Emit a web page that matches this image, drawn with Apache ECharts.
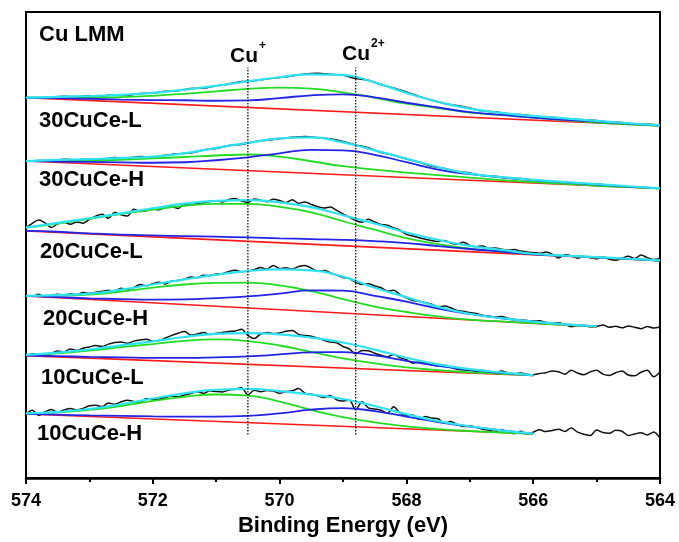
<!DOCTYPE html>
<html>
<head>
<meta charset="utf-8">
<title>Cu LMM</title>
<script src="https://cdn.jsdelivr.net/npm/echarts/dist/echarts.min.js"></script>
<style>
  html, body { margin: 0; padding: 0; background: #ffffff; }
  #chart { width: 679px; height: 542px; }
</style>
</head>
<body>
<div id="chart"></div>
<script>
// Binding energy grids (eV)
const energyFit = [574, 573.5, 573, 572.5, 572, 571.5, 571, 570.5, 570, 569.5, 569,
                   568.5, 568, 567.5, 567, 566.5, 566, 565.5, 565, 564.5, 564];
const energyCoarse = [574.0, 573.8, 573.6, 573.4, 573.2, 573.0, 572.8, 572.6, 572.4, 572.2,
                      572.0, 571.8, 571.6, 571.4, 571.2, 571.0, 570.8, 570.6, 570.4, 570.2,
                      570.0, 569.8, 569.6, 569.4, 569.2, 569.0, 568.8, 568.6, 568.4, 568.2,
                      568.0, 567.8, 567.6, 567.4, 567.2, 567.0, 566.8, 566.6, 566.4, 566.2,
                      566.0, 565.8, 565.6, 565.4, 565.2, 565.0, 564.8, 564.6, 564.4, 564.2,
                      564.0];
const energyFine = [574.0, 573.9, 573.8, 573.7, 573.6, 573.5, 573.4, 573.3, 573.2, 573.1,
                    573.0, 572.9, 572.8, 572.7, 572.6, 572.5, 572.4, 572.3, 572.2, 572.1,
                    572.0, 571.9, 571.8, 571.7, 571.6, 571.5, 571.4, 571.3, 571.2, 571.1,
                    571.0, 570.9, 570.8, 570.7, 570.6, 570.5, 570.4, 570.3, 570.2, 570.1,
                    570.0, 569.9, 569.8, 569.7, 569.6, 569.5, 569.4, 569.3, 569.2, 569.1,
                    569.0, 568.9, 568.8, 568.7, 568.6, 568.5, 568.4, 568.3, 568.2, 568.1,
                    568.0, 567.9, 567.8, 567.7, 567.6, 567.5, 567.4, 567.3, 567.2, 567.1,
                    567.0, 566.9, 566.8, 566.7, 566.6, 566.5, 566.4, 566.3, 566.2, 566.1,
                    566.0, 565.9, 565.8, 565.7, 565.6, 565.5, 565.4, 565.3, 565.2, 565.1,
                    565.0, 564.9, 564.8, 564.7, 564.6, 564.5, 564.4, 564.3, 564.2, 564.1,
                    564.0];

// Sample names (top to bottom) and vertical stacking offsets (a.u.)
const sampleNames = ['30CuCe-L', '30CuCe-H', '20CuCe-L', '20CuCe-H', '10CuCe-L', '10CuCe-H'];
const stackOffset = [383.7, 319.7, 249.3, 183.7, 123.5, 64.7];

// Peak positions of the two copper states (eV) and the span of their guide lines (a.u.)
const cuPlusEnergy = 570.5;
const cu2PlusEnergy = 568.8;
const guideSpan = [44, 414];

// ---- 30CuCe-L ----
const raw30L = [0.3, -0.6, 0.4, 1.3, 0.9, 1.9, 1.6, 2.9, 2.6, 4.2,
                4.5, 6.3, 7.0, 9.1, 9.6, 11.9, 13.8, 16.2, 16.9, 18.8,
                20.2, 21.8, 23.9, 24.5, 23.6, 22.4, 19.2, 17.4, 12.9, 9.8,
                5.6, 1.2, -2.6, -5.9, -8.0, -10.6, -13.5, -14.4, -16.4, -17.0,
                -18.8, -19.6, -20.3, -21.9, -22.3, -23.1, -24.8, -25.1, -26.9, -27.0,
                -27.6];
const bg30L = [0, -28.4];
const cuI30L = [0, -0.1, 0, 0.5, 1.8, 3.8, 6.3, 8.8, 10.0, 9.0, 5.3, -0.2, -6.2, -10.5, -15.2, -17.5, -20.2, -22.7, -25.2, -26.9, -28.4];
const cuII30L = [0, -0.5, -1.2, -2.0, -2.5, -2.7, -3.2, -2.9, -0.5, 2.3, 3.3, 0.3, -5.2, -10.0, -14.7, -17.4, -20.2, -22.5, -24.3, -26.2, -28.2];
const env30L = [0, 0.8, 1.6, 2.8, 4.8, 8.0, 11.8, 16.3, 20.5, 23.5, 22.8, 15.3, 4.8, -4.2, -11.2, -15.5, -18.5, -21.0, -23.5, -25.9, -28.0];

// ---- 30CuCe-H ----
const raw30H = [-0.5, 0.6, 0.3, 1.8, 1.2, 2.4, 1.9, 3.5, 2.9, 4.6,
                4.0, 5.9, 7.4, 8.0, 11.2, 12.6, 15.6, 16.8, 19.5, 21.0,
                22.4, 23.9, 24.8, 23.6, 22.4, 19.8, 16.3, 13.5, 8.6, 5.8,
                2.0, -1.0, -5.3, -7.4, -10.6, -12.0, -14.6, -15.3, -17.4, -17.6,
                -19.5, -20.0, -21.3, -22.0, -23.4, -23.0, -24.9, -25.8, -26.1, -27.4,
                -27.2];
const bg30H = [0, -27.7];
const cuI30H = [0, 0.1, 0.5, 1.3, 2.6, 4.1, 5.6, 6.6, 4.5, -0.2, -5.2, -8.7, -11.7, -14.2, -16.7, -19.2, -21.2, -23.0, -24.9, -26.3, -27.7];
const cuII30H = [0, -0.5, -0.9, -1.3, -1.7, -1.2, 0.8, 3.8, 7.8, 11.3, 10.8, 6.3, -1.2, -8.7, -13.2, -16.5, -19.2, -21.5, -23.7, -25.7, -27.5];
const env30H = [0, 1.1, 2.0, 3.0, 4.5, 7.8, 13.3, 18.3, 22.8, 23.8, 18.8, 10.8, 2.5, -6.0, -12.7, -16.2, -19.0, -21.2, -23.2, -25.4, -27.5];

// ---- 20CuCe-L ----
const raw20L = [3.0, 7.6, 10.9, 8.0, 3.4, 7.2, 8.8, 6.6, 9.0, 7.8,
                11.6, 14.9, 16.8, 12.6, 18.4, 16.2, 14.9, 21.8, 19.6, 20.4,
                22.0, 21.2, 23.8, 24.6, 22.6, 26.9, 25.8, 27.6, 28.4, 29.6,
                30.4, 29.2, 31.6, 32.6, 30.0, 28.8, 32.2, 31.0, 29.4, 31.8,
                30.6, 28.4, 31.4, 27.8, 29.2, 26.6, 24.4, 23.0, 24.0, 20.6,
                17.2, 13.8, 10.6, 8.6, 11.8, 9.0, 6.4, 5.8, 3.0, 0.6,
                -3.6, -5.2, -7.0, -8.4, -9.8, -10.6, -9.6, -12.2, -13.4, -11.4,
                -14.6, -16.0, -15.2, -17.6, -17.2, -18.4, -19.6, -18.8, -20.4, -21.2,
                -21.8, -22.6, -21.4, -23.4, -27.4, -24.2, -25.0, -27.6, -25.8, -27.0,
                -28.2, -26.4, -28.6, -29.6, -27.8, -25.6, -27.8, -24.4, -27.0, -28.8,
                -28.2];
const bg20L = [0, -30.0];
const cuI20L = [3.2, 7.4, 12.2, 17.0, 21.4, 25.2, 27.2, 27.2, 24.2, 18.7, 9.7, 1.2, -7.3, -13.3, -17.8, -20.8, -23.3, -25.1, -26.6, -28.3, -29.9];
const cuII20L = [0, -0.9, -2.5, -3.8, -4.6, -5.3, -5.9, -6.6, -7.5, -8.3, -9.0, -10.3, -12.3, -15.3, -18.3, -20.8, -23.8, -25.3, -26.8, -28.3, -29.9];
const env20L = [3.2, 8.0, 12.7, 17.7, 22.8, 27.4, 30.3, 31.1, 28.7, 23.9, 15.7, 7.4, -1.6, -9.1, -15.1, -19.1, -23.1, -24.9, -26.4, -28.1, -29.8];

// ---- 20CuCe-H ----
const raw20H = [0.8, -0.6, 1.8, -1.2, 0.4, 1.6, 0.6, 2.2, 1.2, 3.4,
                2.6, 3.8, 4.6, 5.8, 4.8, 7.8, 6.6, 8.4, 11.6, 10.2,
                12.4, 13.8, 12.0, 15.0, 15.6, 16.8, 19.0, 18.4, 20.8, 20.6,
                22.0, 22.4, 24.6, 25.8, 24.4, 25.2, 26.4, 28.6, 27.0, 30.8,
                27.6, 28.4, 27.2, 29.6, 30.8, 28.0, 24.8, 25.6, 23.4, 21.0,
                18.6, 17.4, 13.8, 11.6, 12.4, 10.0, 8.2, 5.0, 5.6, 1.4,
                -2.0, -4.6, -5.4, -6.8, -8.4, -11.2, -10.2, -12.0, -14.6, -15.4,
                -16.8, -17.8, -19.6, -20.2, -21.4, -20.8, -22.6, -23.8, -24.2, -24.8,
                -25.4, -25.0, -26.8, -27.6, -27.0, -28.8, -31.0, -30.2, -29.6, -31.2,
                -30.8, -29.4, -31.6, -30.6, -32.2, -30.4, -31.6, -33.0, -30.8, -32.4,
                -31.4];
const bg20H = [0, -31.1];
const cuI20H = [0, 0.4, 1.3, 4.3, 8.3, 11.5, 13.1, 13.5, 10.6, 4.8, -3.2, -10.7, -16.2, -20.7, -24.0, -25.7, -27.5, -29.2, -31.0];
const cuII20H = [0, -1.2, -2.4, -3.2, -3.7, -3.5, -2.2, -0.5, 2.3, 5.5, 5.3, 0, -5.7, -12.7, -18.2, -22.5, -26.0, -28.7, -30.7];
const env20H = [0, 0.9, 2.3, 6.3, 11.5, 16.6, 21.3, 25.1, 26.7, 25.8, 19.4, 8.3, -1.2, -11.0, -18.0, -22.3, -25.9, -28.6, -30.6];

// ---- 10CuCe-L ----
const raw10L = [-1.5, 1.8, 0.2, -0.8, 2.4, 4.6, 3.6, 6.8, 5.2, 7.4,
                8.8, 10.2, 9.2, 11.6, 13.2, 13.8, 12.4, 14.6, 15.8, 16.4,
                14.6, 15.2, 17.8, 20.4, 22.6, 24.4, 20.6, 21.8, 23.2, 21.4,
                22.6, 23.2, 24.4, 24.8, 26.6, 20.4, 17.2, 21.8, 23.4, 22.2,
                22.8, 24.6, 25.4, 21.4, 20.2, 19.6, 17.8, 15.4, 13.6, 13.0,
                9.2, 6.8, 1.8, 5.2, 5.0, 2.4, 0.4, -1.2, 1.2, -2.0,
                -4.2, -7.6, -6.4, -7.2, -9.4, -10.2, -9.6, -11.8, -13.8, -14.4,
                -15.0, -15.8, -14.8, -16.4, -16.8, -15.6, -17.4, -18.2, -17.6, -18.8,
                -19.4, -18.0, -17.2, -15.4, -16.2, -18.8, -14.8, -17.6, -19.2, -16.4,
                -14.8, -18.6, -20.0, -17.2, -15.4, -19.6, -20.4, -16.8, -14.8, -21.4,
                -16.6];
const bg10L = [0, -20.0];
const cuI10L = [0.7, 2.3, 5.0, 8.5, 11.7, 14.9, 16.3, 14.7, 10.2, 3.7, -2.8, -7.8, -11.8, -14.7, -16.8, -18.3, -19.8];
const cuII10L = [0, -0.5, -1.3, -1.8, -2.3, -2.3, -1.8, -0.8, 1.2, 3.3, 3.5, 0.2, -5.3, -10.3, -14.3, -17.3, -19.8];
const env10L = [0.7, 3.0, 6.2, 10.4, 14.4, 18.8, 22.0, 22.6, 21.4, 18.2, 13.2, 6.1, -2.1, -8.8, -13.6, -16.9, -19.6];

// ---- 10CuCe-H ----
const raw10H = [-0.4, 3.8, -1.6, 2.2, 4.6, 1.8, 4.0, 5.4, 4.2, 5.6,
                8.2, 8.8, 7.4, 11.0, 9.8, 12.2, 13.8, 12.6, 11.4, 15.6,
                14.2, 15.0, 16.6, 18.2, 17.4, 19.0, 20.6, 22.4, 20.8, 23.4,
                22.6, 22.2, 24.2, 25.0, 26.4, 19.2, 24.0, 22.4, 23.6, 23.2,
                20.8, 22.6, 23.4, 25.6, 21.0, 19.8, 18.4, 16.6, 18.6, 14.2,
                13.0, 13.8, 4.2, 12.2, 6.2, 5.0, 3.8, 0.6, 7.2, 0.8,
                -1.4, -1.0, -5.4, -2.6, -4.2, -4.8, -9.4, -7.6, -10.8, -12.6,
                -12.0, -13.4, -15.4, -16.2, -17.8, -15.6, -18.6, -20.0, -17.4, -20.2,
                -18.4, -16.0, -17.8, -16.6, -15.4, -17.6, -14.2, -18.4, -20.4, -21.8,
                -16.2, -18.8, -19.6, -16.4, -17.4, -21.8, -20.2, -19.0, -21.2, -18.2,
                -24.4];
const bg10H = [0, -20.0];
const cuI10H = [0.5, 1.5, 4.0, 8.0, 13.1, 17.3, 19.6, 18.5, 12.5, 4.0, -3.2, -8.5, -12.5, -15.3, -17.2, -18.7, -20.0];
const cuII10H = [0, -0.7, -1.5, -2.0, -2.5, -2.7, -2.7, -2.0, 0.5, 4.3, 5.8, 2.8, -2.7, -8.2, -12.7, -16.5, -19.7];
const env10H = [0.5, 2.0, 5.0, 9.7, 15.6, 20.8, 24.4, 25.2, 23.0, 19.5, 15.1, 8.0, -0.2, -7.3, -12.4, -16.5, -19.7];

const spectra = [
  { raw: raw30L, rawE: energyCoarse, bg: bg30L, cuI: cuI30L, cuII: cuII30L, env: env30L },
  { raw: raw30H, rawE: energyCoarse, bg: bg30H, cuI: cuI30H, cuII: cuII30H, env: env30H },
  { raw: raw20L, rawE: energyFine, bg: bg20L, cuI: cuI20L, cuII: cuII20L, env: env20L },
  { raw: raw20H, rawE: energyFine, bg: bg20H, cuI: cuI20H, cuII: cuII20H, env: env20H },
  { raw: raw10L, rawE: energyFine, bg: bg10L, cuI: cuI10L, cuII: cuII10L, env: env10L },
  { raw: raw10H, rawE: energyFine, bg: bg10H, cuI: cuI10H, cuII: cuII10H, env: env10H }
];

const COLORS = { raw: '#111111', bg: '#ff1a1a', cuI: '#22dc22', cuII: '#2424e6', env: '#2ee2f0' };
const FONT = '"Liberation Sans", Arial, Helvetica, sans-serif';

function toPairs(xs, ys, off) {
  return ys.map(function (v, i) { return [xs[i], +(v + off).toFixed(2)]; });
}

function lineSeries(name, data, color, width, smooth) {
  return {
    name: name, type: 'line', data: data, symbol: 'none', silent: true,
    smooth: smooth,
    lineStyle: { color: color, width: width }
  };
}

const series = [];
spectra.forEach(function (s, k) {
  const off = stackOffset[k];
  const n = s.env.length;
  const fitE = energyFit.slice(0, n);
  series.push(lineSeries(sampleNames[k] + ' data', toPairs(s.rawE, s.raw, off), COLORS.raw, 1.5, 0.3));
  series.push(lineSeries(sampleNames[k] + ' background', toPairs([fitE[0], fitE[n - 1]], s.bg, off), COLORS.bg, 1.6, false));
  series.push(lineSeries(sampleNames[k] + ' Cu+', toPairs(fitE, s.cuI, off), COLORS.cuI, 1.8, true));
  series.push(lineSeries(sampleNames[k] + ' Cu2+', toPairs(fitE, s.cuII, off), COLORS.cuII, 1.8, true));
  series.push(lineSeries(sampleNames[k] + ' envelope', toPairs(fitE, s.env, off), COLORS.env, 2.2, true));
});

// Dotted guide lines at the Cu+ and Cu2+ positions
[cuPlusEnergy, cu2PlusEnergy].forEach(function (e) {
  series.push({
    type: 'line', symbol: 'none', silent: true,
    data: [[e, guideSpan[0]], [e, guideSpan[1]]],
    lineStyle: { color: '#000', width: 1.2, type: [1.5, 1.5] }
  });
});

// Text annotations
const labelY = [120.5, 179.5, 252, 318.5, 377.5, 433.5];
const labelX = [39, 39, 40, 43, 41, 37];
const graphics = [
  { type: 'text', x: 39, y: 35, style: { text: 'Cu LMM', font: 'bold 22px ' + FONT, fill: '#000', align: 'left', verticalAlign: 'middle' } },
  { type: 'text', x: 230, y: 56, style: { text: 'Cu', font: 'bold 21px ' + FONT, fill: '#000', align: 'left', verticalAlign: 'middle' } },
  { type: 'text', x: 259, y: 46, style: { text: '+', font: 'bold 12px ' + FONT, fill: '#000', align: 'left', verticalAlign: 'middle' } },
  { type: 'text', x: 342, y: 54.5, style: { text: 'Cu', font: 'bold 21px ' + FONT, fill: '#000', align: 'left', verticalAlign: 'middle' } },
  { type: 'text', x: 371, y: 43.5, style: { text: '2+', font: 'bold 12px ' + FONT, fill: '#000', align: 'left', verticalAlign: 'middle' } }
];
sampleNames.forEach(function (name, k) {
  graphics.push({ type: 'text', x: labelX[k], y: labelY[k],
    style: { text: name, font: 'bold 22px ' + FONT, fill: '#000', align: 'left', verticalAlign: 'middle' } });
});

const chart = echarts.init(document.getElementById('chart'), null, { renderer: 'canvas' });
chart.setOption({
  animation: false,
  backgroundColor: '#ffffff',
  grid: { left: 26, right: 19, top: 12, bottom: 60, show: true, borderColor: '#000', borderWidth: 2, backgroundColor: 'transparent' },
  xAxis: {
    type: 'value', min: 564, max: 574, interval: 2, inverse: true,
    name: 'Binding Energy (eV)', nameLocation: 'middle', nameGap: 33,
    nameTextStyle: { fontFamily: FONT, fontWeight: 'bold', fontSize: 22, color: '#000' },
    axisLine: { show: true, onZero: false, lineStyle: { color: '#000', width: 2.5 } },
    axisTick: { show: true, inside: false, length: 6, lineStyle: { color: '#000', width: 2 } },
    minorTick: { show: true, splitNumber: 2, length: 4, lineStyle: { color: '#000', width: 2 } },
    axisLabel: { fontFamily: FONT, fontWeight: 'bold', fontSize: 18, color: '#000', margin: 14 },
    splitLine: { show: false }
  },
  yAxis: {
    type: 'value', min: 0, max: 470, show: false,
    axisLine: { show: true, lineStyle: { color: '#000', width: 2.5 } },
    splitLine: { show: false }
  },
  series: series,
  graphic: graphics
});
</script>
</body>
</html>
